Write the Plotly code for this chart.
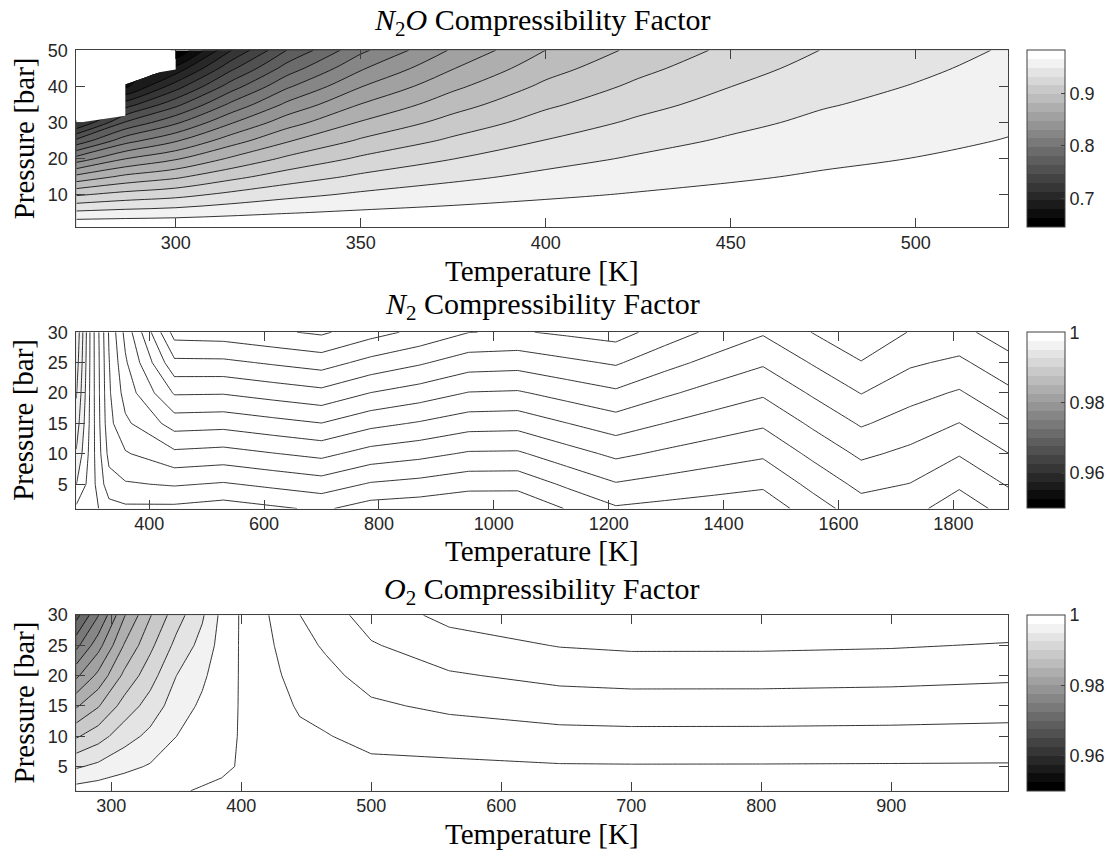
import math
import plotly.graph_objects as go

# ---------------- data: N2O compressibility factor ----------------
n2o_T = [273.15, 286.4, 300, 315, 330, 350, 375, 400, 425, 450, 475, 500, 525]
n2o_P = [1, 5, 10, 15, 20, 25, 30, 35, 40, 45, 50]
# one list per temperature, values at n2o_P (None = liquid region, no vapour data)
n2o_Z_by_T = [
    [0.9810, 0.9526, 0.9130, 0.8690, 0.8205, 0.7674, 0.7099, None, None, None, None],
    [0.9810, 0.9552, 0.9211, 0.8850, 0.8469, 0.8068, 0.7647, 0.7206, 0.6745, None, None],
    [0.9810, 0.9572, 0.9265, 0.8948, 0.8621, 0.8284, 0.7937, 0.7580, 0.7213, 0.6837, 0.6450],
    [0.9810, 0.9612, 0.9359, 0.9100, 0.8835, 0.8564, 0.8288, 0.8005, 0.7716, 0.7421, 0.7120],
    [0.9810, 0.9646, 0.9438, 0.9226, 0.9010, 0.8790, 0.8566, 0.8338, 0.8106, 0.7870, 0.7630],
    [0.9810, 0.9679, 0.9513, 0.9345, 0.9174, 0.9000, 0.8824, 0.8646, 0.8464, 0.8281, 0.8095],
    [0.9810, 0.9706, 0.9576, 0.9444, 0.9312, 0.9178, 0.9044, 0.8908, 0.8772, 0.8634, 0.8496],
    [0.9810, 0.9728, 0.9626, 0.9524, 0.9422, 0.9320, 0.9218, 0.9116, 0.9014, 0.8912, 0.8810],
    [0.9810, 0.9746, 0.9665, 0.9584, 0.9504, 0.9423, 0.9343, 0.9262, 0.9181, 0.9101, 0.9020],
    [0.9810, 0.9759, 0.9695, 0.9631, 0.9568, 0.9504, 0.9440, 0.9376, 0.9313, 0.9249, 0.9185],
    [0.9810, 0.9770, 0.9720, 0.9670, 0.9620, 0.9570, 0.9520, 0.9470, 0.9420, 0.9370, 0.9320],
    [0.9810, 0.9777, 0.9737, 0.9696, 0.9655, 0.9614, 0.9573, 0.9532, 0.9492, 0.9451, 0.9410],
    [0.9810, 0.9785, 0.9753, 0.9721, 0.9690, 0.9658, 0.9627, 0.9595, 0.9563, 0.9532, 0.9500],
]
# boundary of the liquid (no data) region, drawn blank
n2o_liquid_T = [273.15, 286.4, 286.4, 300, 300, 273.15]
n2o_liquid_P = [29.9, 31.9, 42.3, 44.7, 50, 50]
n2o_levels = dict(start=0.66185, end=0.96515, size=0.01685)
n2o_crange = [0.645, 0.982]
n2o_cticks = [0.7, 0.8, 0.9]
n2o_xticks = [300, 350, 400, 450, 500]
n2o_yticks = [10, 20, 30, 40, 50]

# ---------------- data: N2 compressibility factor ----------------
n2_T = [273.15, 300.0, 330.0, 358.5, 443.9, 529.3, 614.7, 700.0, 785.4, 870.8, 956.2,
        1041.6, 1127.0, 1212.4, 1297.8, 1383.2, 1468.6, 1554.0, 1639.4, 1724.8, 1810.2, 1895.6]
n2_P = [1, 5, 10, 15, 20, 25, 30]
n2_Z_by_T = [
    [0.99920, 0.99798, 0.99710, 0.99645, 0.99590, 0.99548, 0.99515],
    [0.99960, 0.99960, 0.99955, 0.99950, 0.99950, 0.99950, 0.99950],
    [1.00060, 1.00160, 1.00230, 1.00270, 1.00285, 1.00295, 1.00310],
    [1.00080, 1.00190, 1.00290, 1.00380, 1.00440, 1.00485, 1.00530],
    [1.00077, 1.00210, 1.00377, 1.00543, 1.00710, 1.00877, 1.01043],
    [1.00052, 1.00190, 1.00362, 1.00534, 1.00707, 1.00879, 1.01052],
    [1.00084, 1.00222, 1.00395, 1.00567, 1.00740, 1.00912, 1.01084],
    [1.00116, 1.00253, 1.00426, 1.00598, 1.00771, 1.00943, 1.01116],
    [1.00054, 1.00190, 1.00359, 1.00529, 1.00698, 1.00868, 1.01037],
    [1.00039, 1.00168, 1.00329, 1.00490, 1.00652, 1.00813, 1.00974],
    [1.00012, 1.00135, 1.00288, 1.00442, 1.00595, 1.00748, 1.00902],
    [1.00012, 1.00133, 1.00285, 1.00436, 1.00588, 1.00739, 1.00891],
    [1.00106, 1.00218, 1.00358, 1.00498, 1.00638, 1.00778, 1.00917],
    [1.00188, 1.00292, 1.00422, 1.00552, 1.00682, 1.00812, 1.00942],
    [1.00169, 1.00264, 1.00381, 1.00499, 1.00616, 1.00734, 1.00852],
    [1.00153, 1.00239, 1.00346, 1.00454, 1.00561, 1.00669, 1.00776],
    [1.00138, 1.00217, 1.00316, 1.00415, 1.00514, 1.00613, 1.00711],
    [1.00250, 1.00326, 1.00422, 1.00517, 1.00612, 1.00707, 1.00802],
    [1.00354, 1.00428, 1.00519, 1.00611, 1.00703, 1.00795, 1.00886],
    [1.00333, 1.00397, 1.00476, 1.00556, 1.00635, 1.00714, 1.00794],
    [1.00244, 1.00316, 1.00407, 1.00498, 1.00589, 1.00680, 1.00771],
    [1.00338, 1.00409, 1.00498, 1.00588, 1.00677, 1.00766, 1.00855],
]
n2_levels = dict(start=0.990, end=1.012, size=0.001)
n2_crange = [0.95, 1.0]
n2_cticks = [0.96, 0.98, 1.0]
n2_xticks = [400, 600, 800, 1000, 1200, 1400, 1600, 1800]
n2_yticks = [5, 10, 15, 20, 25, 30]

# ---------------- data: O2 compressibility factor ----------------
o2_T = [273.15, 290, 310, 330, 350, 370, 385, 398, 410, 430, 445, 465, 500, 560, 645, 700, 800, 900, 990]
o2_P = [1, 5, 10, 15, 20, 25, 30]
o2_Z_by_T = [
    [0.99856, 0.99470, 0.98970, 0.98469, 0.97948, 0.97427, 0.96906],
    [0.99891, 0.99559, 0.99145, 0.98730, 0.98316, 0.97901, 0.97486],
    [0.99919, 0.99685, 0.99393, 0.99101, 0.98809, 0.98517, 0.98226],
    [0.99940, 0.99773, 0.99565, 0.99356, 0.99148, 0.98940, 0.98732],
    [0.99985, 0.99880, 0.99748, 0.99625, 0.99498, 0.99318, 0.99138],
    [1.00012, 0.99951, 0.99874, 0.99794, 0.99705, 0.99584, 0.99466],
    [1.00015, 0.99987, 0.99953, 0.99918, 0.99884, 0.99849, 0.99815],
    [1.00005, 1.00004, 1.00004, 1.00003, 1.00002, 1.00001, 0.99999],
    [1.00040, 1.00054, 1.00071, 1.00088, 1.00106, 1.00123, 1.00140],
    [1.00060, 1.00098, 1.00146, 1.00193, 1.00241, 1.00288, 1.00336],
    [1.00069, 1.00128, 1.00202, 1.00276, 1.00350, 1.00424, 1.00498],
    [1.00060, 1.00138, 1.00236, 1.00334, 1.00432, 1.00530, 1.00628],
    [1.00087, 1.00194, 1.00327, 1.00461, 1.00594, 1.00728, 1.00861],
    [1.00063, 1.00201, 1.00375, 1.00548, 1.00722, 1.00895, 1.01069],
    [1.00075, 1.00231, 1.00426, 1.00621, 1.00816, 1.01011, 1.01206],
    [1.00073, 1.00234, 1.00435, 1.00637, 1.00838, 1.01040, 1.01241],
    [1.00072, 1.00233, 1.00434, 1.00636, 1.00837, 1.01039, 1.01240],
    [1.00072, 1.00230, 1.00428, 1.00625, 1.00823, 1.01020, 1.01218],
    [1.00077, 1.00227, 1.00416, 1.00604, 1.00793, 1.00982, 1.01170],
]
o2_levels = dict(start=0.9525, end=1.0125, size=0.0025)
o2_crange = [0.95, 1.0]
o2_cticks = [0.96, 0.98, 1.0]
o2_xticks = [300, 400, 500, 600, 700, 800, 900]
o2_yticks = [5, 10, 15, 20, 25, 30]

# ---------------- styling helpers ----------------
W, H = 1110, 857
NCOL = 20  # gray(20) colormap
AX = "#404040"
TXT = "#262626"
SERIF = "Liberation Serif, Times New Roman, serif"
SANS = "Liberation Sans, Arial, Helvetica, sans-serif"


def gray(i):
    v = round(255 * i / (NCOL - 1))
    return f"rgb({v},{v},{v})"


def gray_of(level, cr):
    idx = int(math.floor((level - cr[0]) / (cr[1] - cr[0]) * NCOL + 1e-6))
    return gray(max(0, min(NCOL - 1, idx)))


def band_scale(lv, cr):
    # each filled band gets the colormap entry of its lower contour level
    nc = int(round((lv["end"] - lv["start"]) / lv["size"])) + 1
    sc = []
    for k in range(nc + 1):
        col = gray_of(lv["start"] + (k - 1) * lv["size"], cr)
        sc.append([max(0.0, (k - 0.5) / nc), col])
        sc.append([min(1.0, (k + 0.5) / nc), col])
    return sc


def bar_scale():
    sc = []
    for i in range(NCOL):
        sc.append([i / NCOL, gray(i)])
        sc.append([(i + 1) / NCOL, gray(i)])
    return sc


def rows(z_by_T):
    return [list(r) for r in zip(*z_by_T)]


# pixel geometry of the three panels
X0, X1 = 76.3, 1008.3
PANELS = [(40.7, 220.0), (326.0, 504.4), (612.3, 790.0)]


def py(p):
    return 1 - p / H


fig = go.Figure()

datasets = [
    (n2o_T, n2o_P, n2o_Z_by_T, n2o_levels, n2o_crange, n2o_cticks, n2o_xticks, n2o_yticks),
    (n2_T, n2_P, n2_Z_by_T, n2_levels, n2_crange, n2_cticks, n2_xticks, n2_yticks),
    (o2_T, o2_P, o2_Z_by_T, o2_levels, o2_crange, o2_cticks, o2_xticks, o2_yticks),
]
titles = [
    "<i>N</i><sub>2</sub><i>O</i> Compressibility Factor",
    "<i>N</i><sub>2</sub> Compressibility Factor",
    "<i>O</i><sub>2</sub> Compressibility Factor",
]
title_y = [12.5, 299.5, 587.5]
xlabel_y = [264.0, 547.0, 834.0]
smooth = [1, 0, 0]

annotations = []
for i, (T, P, Z, lv, cr, ct, xt, yt) in enumerate(datasets):
    xa = "x" if i == 0 else f"x{i + 1}"
    ya = "y" if i == 0 else f"y{i + 1}"
    top, bot = PANELS[i]
    fig.add_trace(go.Contour(
        x=T, y=P, z=rows(Z), xaxis=xa, yaxis=ya,
        autocontour=False,
        contours=dict(start=lv["start"], end=lv["end"], size=lv["size"],
                      coloring="fill", showlines=True),
        colorscale=band_scale(lv, cr), showscale=False,
        line=dict(color="black", width=0.8, smoothing=smooth[i]), hoverinfo="skip",
    ))
    if i == 0:
        fig.add_trace(go.Scatter(
            x=n2o_liquid_T, y=n2o_liquid_P, xaxis=xa, yaxis=ya, mode="lines",
            fill="toself", fillcolor="white", line=dict(width=0, color="white"),
            hoverinfo="skip", showlegend=False,
        ))
    # colorbar
    fig.add_trace(go.Scatter(
        x=[T[0]], y=[P[0]], xaxis=xa, yaxis=ya, mode="markers",
        marker=dict(size=1, opacity=0, color=[cr[0]], cmin=cr[0], cmax=cr[1],
                    colorscale=bar_scale(), showscale=True,
                    colorbar=dict(x=1026.7 / W, xanchor="left", xpad=0, ypad=0,
                                  y=py((top + bot) / 2), yanchor="middle",
                                  len=(bot - top) / H, lenmode="fraction",
                                  thickness=38, thicknessmode="pixels",
                                  outlinewidth=1, outlinecolor=AX,
                                  tickvals=ct, ticks="inside", ticklen=4,
                                  tickcolor=AX, tickfont=dict(family=SANS, size=18, color=TXT))),
        hoverinfo="skip", showlegend=False,
    ))
    common = dict(showline=True, linecolor=AX, linewidth=1, mirror="ticks",
                  ticks="inside", ticklen=9, tickcolor=AX, tickwidth=1,
                  showgrid=False, zeroline=False,
                  tickfont=dict(family=SANS, size=18, color=TXT))
    fig.update_layout(**{
        ("xaxis" if i == 0 else f"xaxis{i + 1}"): dict(
            domain=[X0 / W, X1 / W], anchor=ya, range=[T[0], T[-1]],
            tickvals=xt, ticklabelstandoff=-1, **common),
        ("yaxis" if i == 0 else f"yaxis{i + 1}"): dict(
            domain=[py(bot), py(top)], anchor=xa, range=[P[0], P[-1]],
            tickvals=yt, ticklabelstandoff=4, **common),
    })
    cx = (X0 + X1) / 2 / W
    annotations.append(dict(text=titles[i], x=cx, y=py(title_y[i]), xref="paper", yref="paper",
                            xanchor="center", yanchor="middle", showarrow=False,
                            font=dict(family=SERIF, size=30, color="black")))
    annotations.append(dict(text="Temperature [K]", x=cx, y=py(xlabel_y[i]), xref="paper", yref="paper",
                            xanchor="center", yanchor="middle", showarrow=False,
                            font=dict(family=SERIF, size=29, color="black")))
    annotations.append(dict(text="Pressure [bar]", x=23.5 / W, y=py((top + bot) / 2), xref="paper",
                            yref="paper", xanchor="center", yanchor="middle", textangle=-90,
                            showarrow=False, font=dict(family=SERIF, size=29, color="black")))

fig.update_layout(width=W, height=H, margin=dict(l=0, r=0, t=0, b=0),
                  paper_bgcolor="white", plot_bgcolor="white", showlegend=False,
                  annotations=annotations)

fig.write_html("out.html", config={"displayModeBar": False})
